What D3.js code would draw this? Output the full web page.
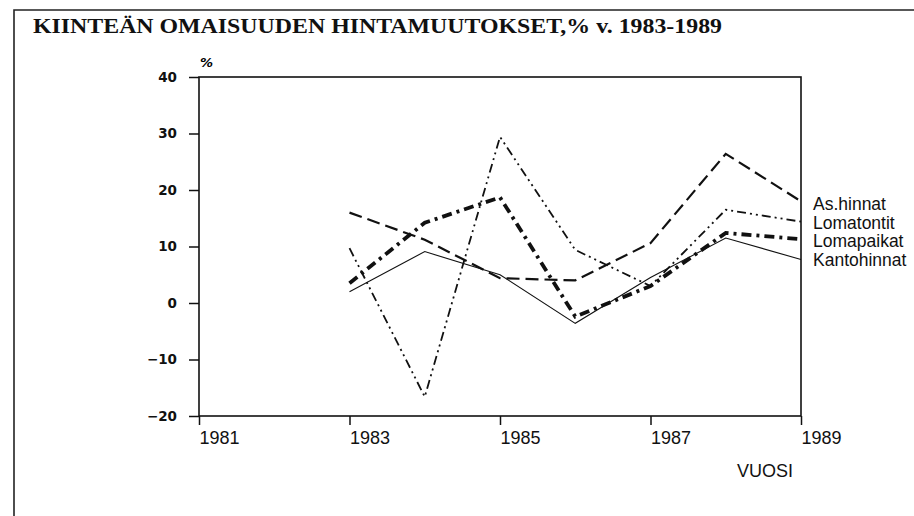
<!DOCTYPE html>
<html lang="fi">
<head>
<meta charset="utf-8">
<title>Kiinteän omaisuuden hintamuutokset</title>
<style>
body{
  margin: 0;
  background: #fff;
}
svg{
  display: block;
}
.title{
  font: bold 21px "Liberation Serif", "Times New Roman", serif;
  fill: #111;
}
.yaxis text{
  font: bold 13.5px "DejaVu Sans", sans-serif;
  fill: #111;
}
.xaxis text, .xlabel{
  font: 18px "Liberation Sans", Arial, sans-serif;
  fill: #111;
}
.legend text{
  font: 17.5px "Liberation Sans", Arial, sans-serif;
  fill: #111;
}
.axis path{
  display: none;
}
.axis line{
  stroke: #111;
  stroke-width: 1.5;
}
.series{
  fill: none;
  stroke: #111;
  stroke-linejoin: miter;
}
</style>
</head>
<body>
<div id="chart"></div>
<script src="https://d3js.org/d3.v7.min.js"></script>
<script>

const width = 914;
const height = 516;

// data
const years = [1983, 1984, 1985, 1986, 1987, 1988, 1989];
const asHinnat    = [16.0, 11.2, 4.4, 4.0, 10.6, 26.4, 18.0];
const lomatontit  = [9.7, -16.6, 29.4, 9.4, 3.0, 16.5, 14.4];
const lomapaikat  = [3.5, 14.2, 18.7, -2.4, 3.0, 12.4, 11.3];
const kantohinnat = [2.0, 9.1, 5.0, -3.6, 4.5, 11.5, 7.7];

const seriesNames = ["As.hinnat", "Lomatontit", "Lomapaikat", "Kantohinnat"];
const seriesValues = [asHinnat, lomatontit, lomapaikat, kantohinnat];

const yTicks = [-20, -10, 0, 10, 20, 30, 40];
const xTicks = [1981, 1983, 1985, 1987, 1989];

const titleText = "KIINTEÄN OMAISUUDEN HINTAMUUTOKSET,% v. 1983-1989";

// line looks, one per series
const styles = [
  { width: 2.2, dash: "13,6" },
  { width: 1.8, dash: "9,4,2,4,2,4" },
  { width: 3.8, dash: "10,5,3,5" },
  { width: 1.1, dash: null }
];

const svg = d3.select('#chart')
  .append('svg')
  .attr('width', width)
  .attr('height', height);

// frame of the scanned page
svg.append('path')
  .attr('d', 'M14,' + (height + 5) + 'V10H' + (width + 5))
  .attr('fill', 'none')
  .attr('stroke', '#222')
  .attr('stroke-width', 1.6);

// the scanned title face is wide, so stretch it to its span
svg.append('text')
  .attr('class', 'title')
  .attr('x', 33)
  .attr('y', 33)
  .attr('textLength', 689)
  .attr('lengthAdjust', 'spacingAndGlyphs')
  .text(titleText);

const x = d3.scaleLinear()
  .domain([1981, 1989])
  .range([199, 801]);

const y = d3.scaleLinear()
  .domain([-20, 40])
  .range([416, 77]);

// plot box
svg.append('rect')
  .attr('x', x(1981))
  .attr('y', y(40))
  .attr('width', x(1989) - x(1981))
  .attr('height', y(-20) - y(40))
  .attr('fill', 'none')
  .attr('stroke', '#111')
  .attr('stroke-width', 1.6);

// y ticks
svg.append('g')
  .attr('class', 'axis yaxis')
  .attr('transform', 'translate(' + x(1981) + ',0)')
  .call(d3.axisLeft(y)
    .tickValues(yTicks)
    .tickSize(10)
    .tickPadding(12));

// x ticks
const xg = svg.append('g')
  .attr('class', 'axis xaxis')
  .attr('transform', 'translate(0,' + y(-20) + ')')
  .call(d3.axisBottom(x)
    .tickValues(xTicks)
    .tickFormat(d3.format('d'))
    .tickSize(9)
    .tickPadding(6));
xg.selectAll('text').attr('text-anchor', 'start');

svg.append('text')
  .attr('x', x(1981) + 1)
  .attr('y', 67)
  .style('font', 'italic bold 13px "DejaVu Sans", sans-serif')
  .text('%');

svg.append('text')
  .attr('class', 'xlabel')
  .attr('x', 737)
  .attr('y', 477)
  .text('VUOSI');

const line = d3.line()
  .x((d, i) => x(years[i]))
  .y(d => y(d));

svg.selectAll('path.series')
  .data(seriesValues)
  .join('path')
  .attr('class', 'series')
  .attr('d', line)
  .attr('stroke-width', (d, i) => styles[i].width)
  .attr('stroke-dasharray', (d, i) => styles[i].dash);

// labels at the line ends
const legendY = [210, 228.5, 247, 265.5];
svg.append('g')
  .attr('class', 'legend')
  .selectAll('text')
  .data(seriesNames)
  .join('text')
  .attr('x', 813)
  .attr('y', (d, i) => legendY[i])
  .text(d => d);

</script>
</body>
</html>
